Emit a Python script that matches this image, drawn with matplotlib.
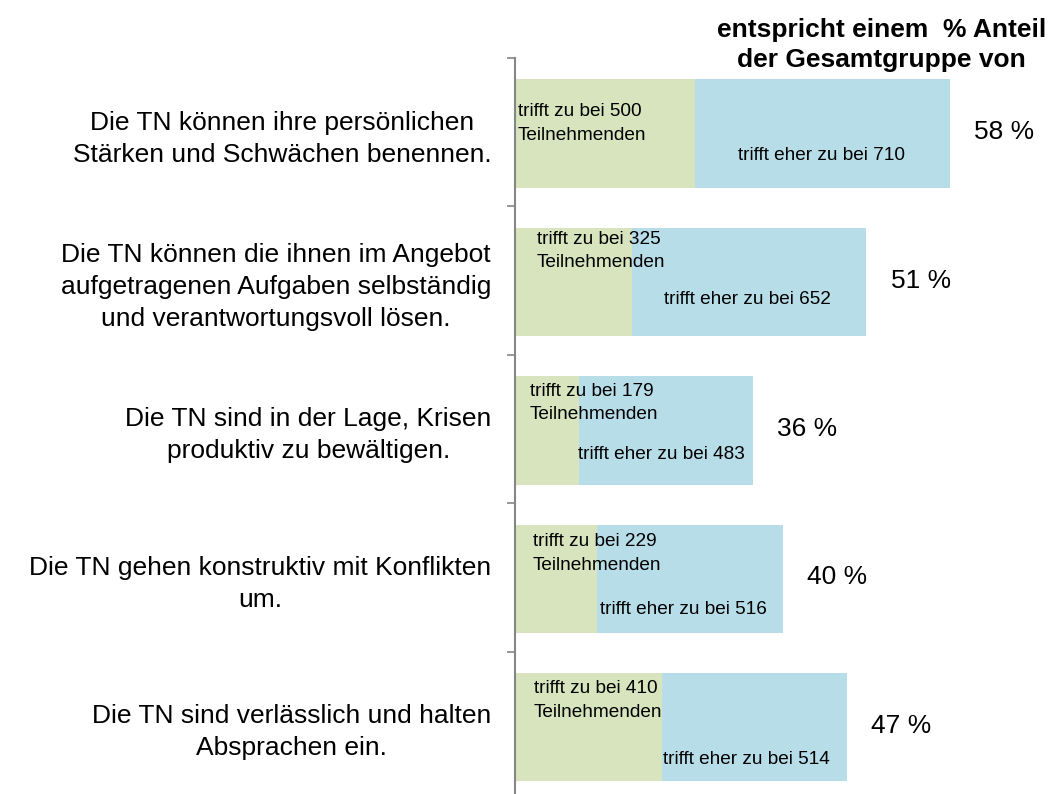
import numpy as np
import matplotlib
matplotlib.use('Agg')
import matplotlib.pyplot as plt

plt.rcParams['font.family'] = ['Liberation Sans', 'DejaVu Sans']

categories = ['Die TN können ihre persönlichen\nStärken und Schwächen benennen.',
              'Die TN können die ihnen im Angebot\naufgetragenen Aufgaben selbständig\nund verantwortungsvoll lösen.',
              'Die TN sind in der Lage, Krisen\nproduktiv zu bewältigen.',
              'Die TN gehen konstruktiv mit Konflikten\num.',
              'Die TN sind verlässlich und halten\nAbsprachen ein.']
trifft_zu = [500, 325, 179, 229, 410]
trifft_eher_zu = [710, 652, 483, 516, 514]
anteil = [58, 51, 36, 40, 47]

# label placement (data units)
green_lbl_x = [8, 61, 42, 50, 53]
green_lbl_dy = [-0.06, -0.20, -0.175, -0.16, -0.17]
blue_lbl_dx = [-3, -4, -13, -20, -25]
blue_lbl_dy = [0.155, 0.13, 0.175, 0.215, 0.23]

green = '#D7E4BD'
blue = '#B7DDE8'

fig = plt.figure(figsize=(10.51, 7.94), dpi=100)
ax = fig.add_axes([0.49, -0.0076, 0.51, 0.9346])

y = np.arange(len(categories))
h = 0.73
ax.barh(y + 0.01, trifft_zu, h, color=green)
ax.barh(y + 0.01, trifft_eher_zu, h, left=trifft_zu, color=blue)

for i in range(len(categories)):
    ax.text(green_lbl_x[i], y[i] + green_lbl_dy[i],
            'trifft zu bei %d\nTeilnehmenden' % trifft_zu[i],
            ha='left', va='center', fontsize=13.7, linespacing=1.5)
    ax.text(trifft_zu[i] + trifft_eher_zu[i] / 2 + blue_lbl_dx[i], y[i] + blue_lbl_dy[i],
            'trifft eher zu bei %d' % trifft_eher_zu[i],
            ha='center', va='center', fontsize=13.7)
    total = trifft_zu[i] + trifft_eher_zu[i]
    ax.text(total + 67, y[i], '%d %%' % anteil[i],
            ha='left', va='center', fontsize=19)

ax.set_xlim(0, 1490)
ax.set_ylim(len(categories) - 0.5, -0.5)
ax.set_xticks([])
ax.set_yticks(y)
ax.set_yticklabels(categories, fontsize=19, multialignment='center', linespacing=1.42)
ax.tick_params(axis='y', which='major', length=0, pad=17)
ax.set_yticks(np.arange(len(categories) + 1) - 0.5, minor=True)
ax.tick_params(axis='y', which='minor', length=6, width=1.2, color='#868686')

for s in ['top', 'right', 'bottom']:
    ax.spines[s].set_visible(False)
ax.spines['left'].set_color('#868686')
ax.spines['left'].set_linewidth(1.5)

fig.text(0.8385, 0.943, 'entspricht einem  % Anteil\nder Gesamtgruppe von',
         ha='center', va='center', fontsize=19, fontweight='bold', linespacing=1.3)

fig.savefig('out.png', dpi=100)
